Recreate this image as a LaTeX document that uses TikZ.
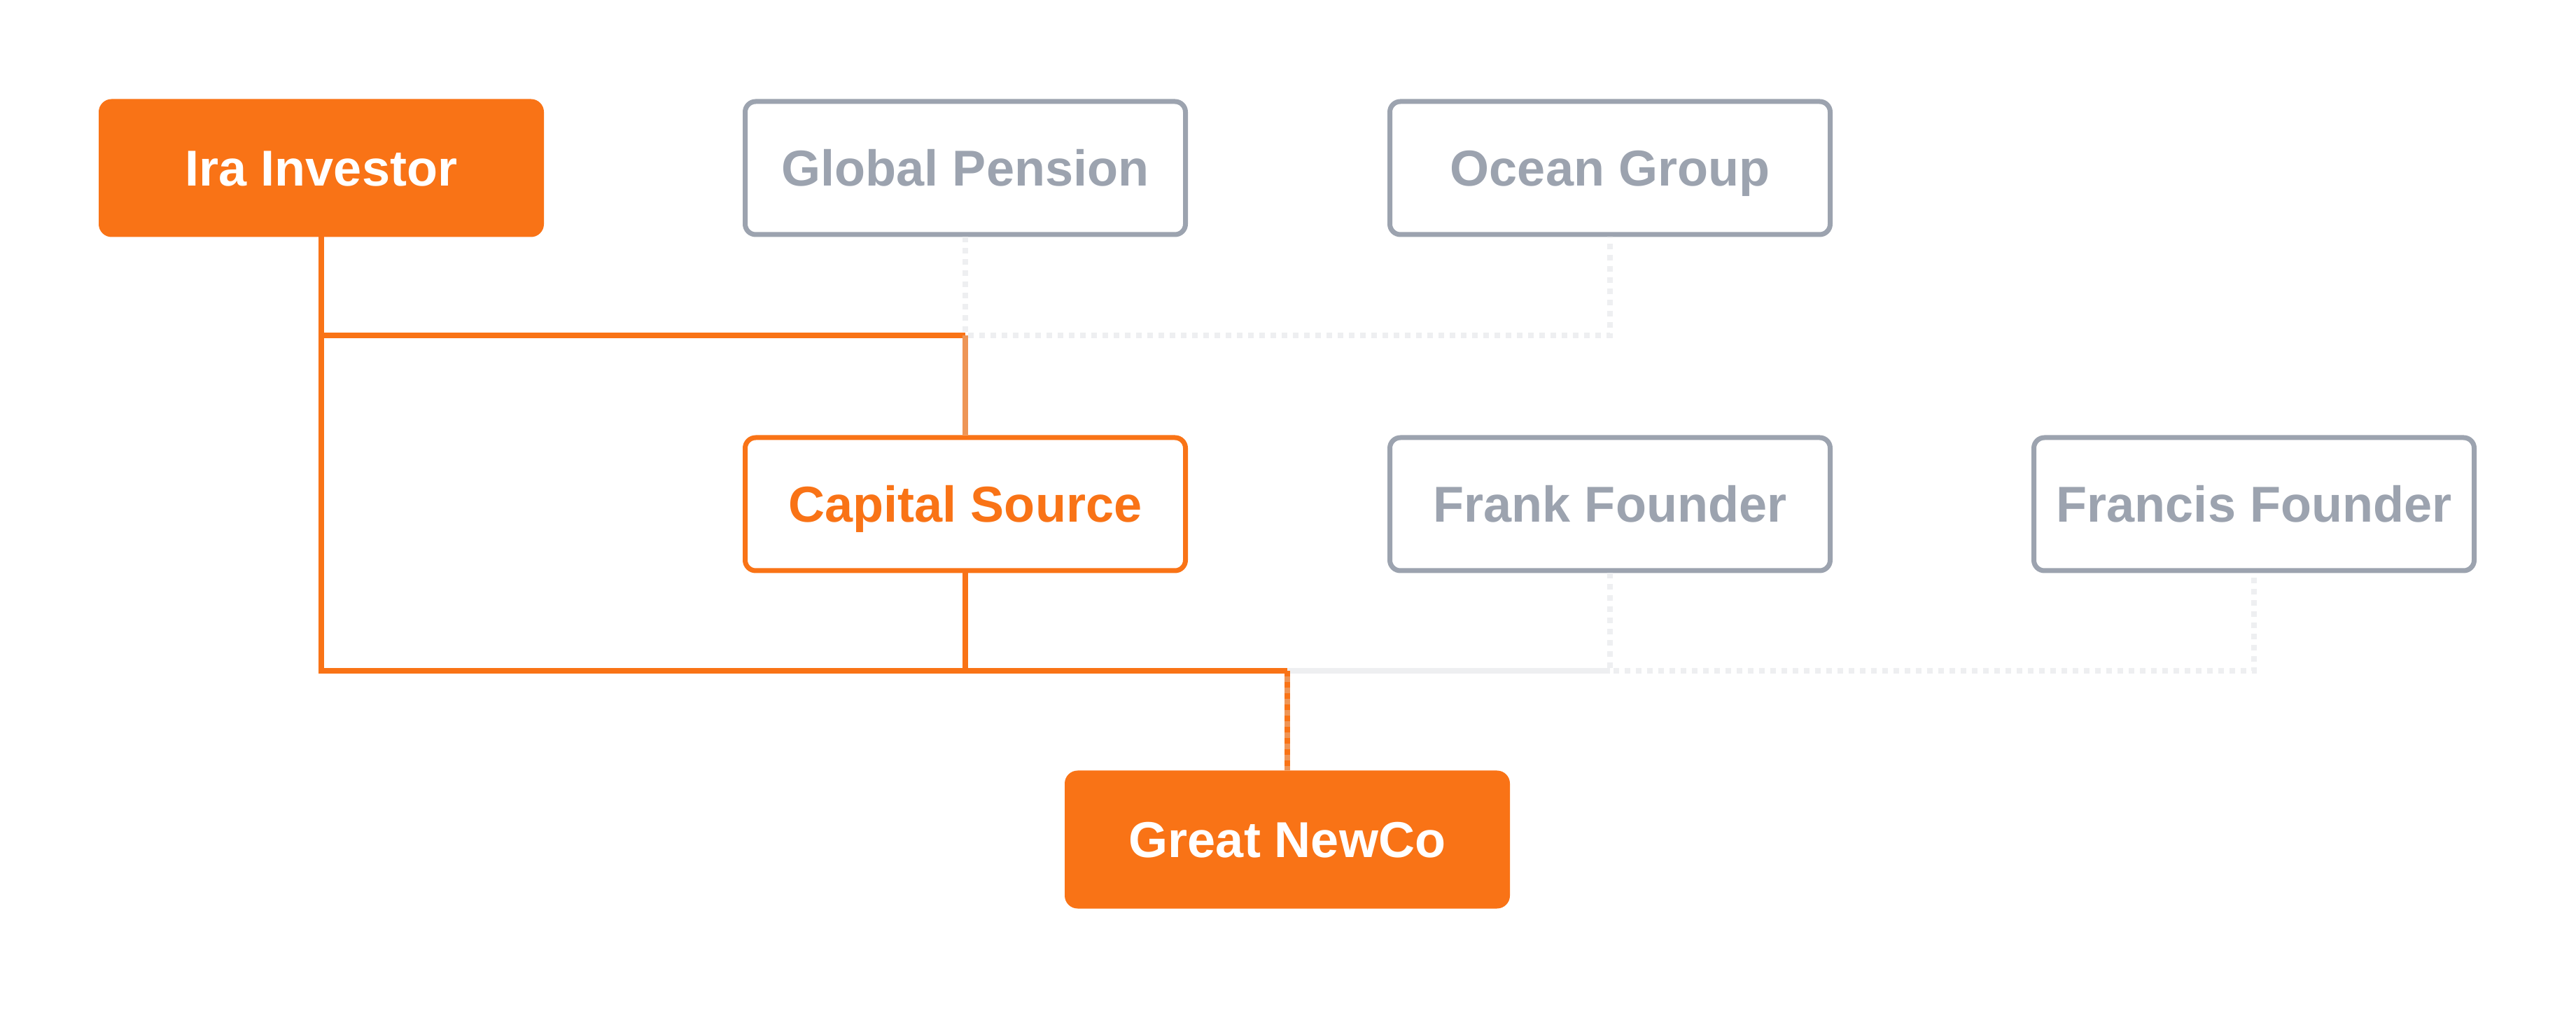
\documentclass[tikz,border=0pt]{standalone}
\usepackage{fontspec}
\setmainfont{Liberation Sans}
\definecolor{brand}{HTML}{F97316}
\definecolor{brandlight}{HTML}{EE9556}
\definecolor{muted}{HTML}{9CA3AF}
\definecolor{faint}{HTML}{EEEFF1}
\begin{document}
\begin{tikzpicture}[
  box/.style={rectangle, rounded corners=0.15cm, line width=0.07cm,
    minimum width=6.29cm, minimum height=1.9cm, inner sep=0pt,
    text height=14.7pt, text depth=0pt,
    font=\fontsize{20.5}{24}\selectfont\bfseries},
  solidbox/.style={box, draw=brand, fill=brand, text=white},
  activebox/.style={box, draw=brand, fill=white, text=brand},
  mutedbox/.style={box, draw=muted, fill=white, text=muted},
  activeline/.style={draw=brand, line width=0.08cm},
  fadedline/.style={draw=faint, line width=0.08cm},
  dottedline/.style={draw=faint, line width=0.08cm, dash pattern=on 0.08cm off 0.08cm},
]
\useasboundingbox (0,0) rectangle (36.8,14.4);
\fill[white] (0,0) rectangle (36.8,14.4);

\node[solidbox]  (ira) at (4.59,12.0) {Ira Investor};
\node[mutedbox]  (gp)  at (13.79,12.0) {Global Pension};
\node[mutedbox]  (oc)  at (23.0,12.0) {Ocean Group};
\node[activebox] (cs)  at (13.79,7.2) {Capital Source};
\node[mutedbox]  (fr)  at (23.0,7.2) {Frank Founder};
\node[mutedbox]  (fz)  at (32.2,7.2) {Francis Founder};
\node[solidbox]  (nc)  at (18.39,2.41) {Great NewCo};

\coordinate (b1) at (0,9.61);
\coordinate (b2) at (0,4.82);

% muted connectors
\draw[dottedline] (gp.south) -- (gp.south |- b1) -- (oc.south |- b1) -- (oc.south);
\draw[fadedline] (nc.north |- b2) -- (fr.south |- b2);
\draw[dottedline] (fr.south) -- (fr.south |- b2) -- (fz.south |- b2) -- (fz.south);

% active connectors
\draw[activeline] (ira.south) -- (ira.south |- b2) -- (nc.north |- b2);
\draw[activeline] (ira.south |- b1) -- (gp.south |- b1);
\draw[draw=brandlight, line width=0.08cm] (gp.south |- b1) -- (cs.north);
\draw[activeline] (cs.south) -- (cs.south |- b2);
\draw[draw=brandlight, line width=0.08cm] (nc.north |- b2) -- (nc.north);
\draw[activeline, dash pattern=on 0.08cm off 0.08cm] (nc.north |- b2) -- (nc.north);
\end{tikzpicture}
\end{document}
